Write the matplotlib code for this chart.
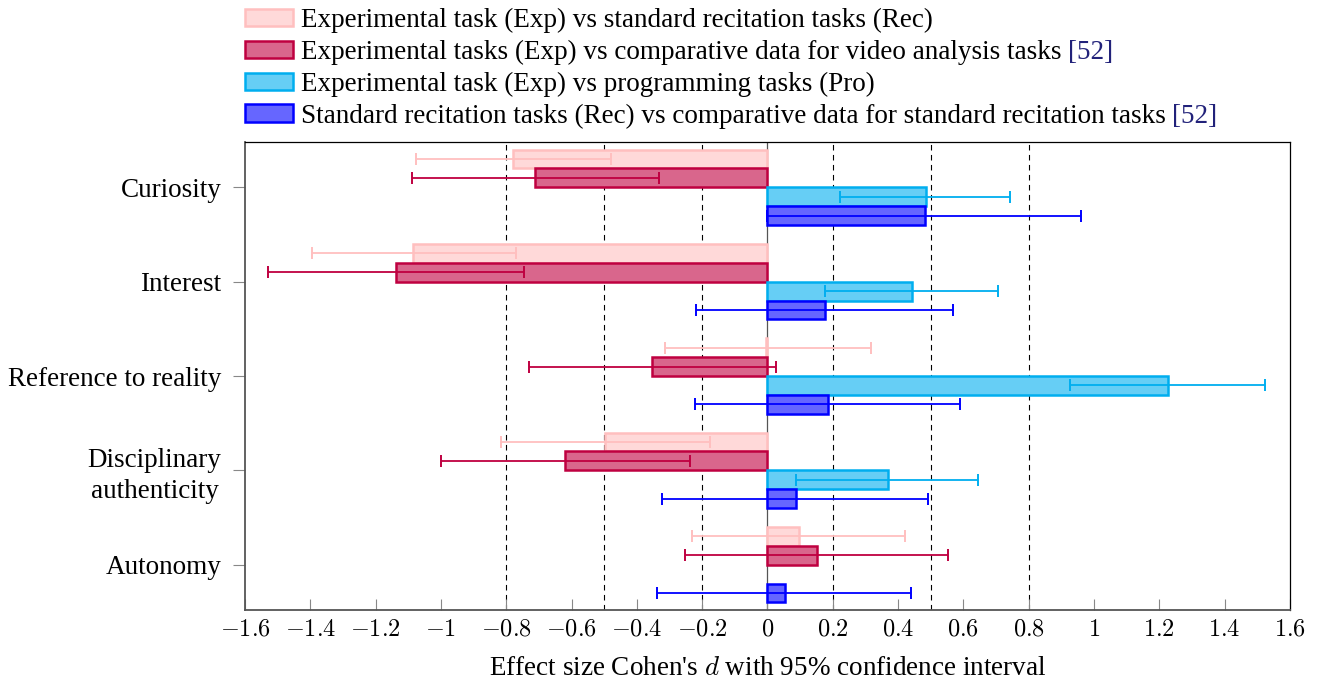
import numpy as np
import matplotlib.pyplot as plt
from matplotlib.ticker import FuncFormatter

plt.rcParams['font.family'] = ['Liberation Serif', 'DejaVu Serif']
plt.rcParams['mathtext.fontset'] = 'cm'

# 数据（从图中读取的效应量和95%置信区间）
categories = ['Curiosity', 'Interest', 'Reference to reality',
              'Disciplinary\nauthenticity', 'Autonomy']

exp_rec = [-0.778, -1.086, -0.005, -0.499, 0.097]
exp_rec_lo = [-1.076, -1.395, -0.313, -0.816, -0.231]
exp_rec_hi = [-0.478, -0.771, 0.316, -0.177, 0.421]

exp_vid = [-0.713, -1.139, -0.353, -0.620, 0.153]
exp_vid_lo = [-1.089, -1.531, -0.731, -1.001, -0.253]
exp_vid_hi = [-0.332, -0.746, 0.027, -0.236, 0.554]

exp_pro = [0.485, 0.443, 1.225, 0.369, np.nan]
exp_pro_lo = [0.221, 0.176, 0.925, 0.087, np.nan]
exp_pro_hi = [0.744, 0.706, 1.523, 0.644, np.nan]

rec_std = [0.482, 0.176, 0.185, 0.086, 0.053]
rec_std_lo = [0.000, -0.218, -0.222, -0.323, -0.338]
rec_std_hi = [0.960, 0.569, 0.591, 0.492, 0.439]

labels = ['Experimental task (Exp) vs standard recitation tasks (Rec)',
          'Experimental tasks (Exp) vs comparative data for video analysis tasks',
          'Experimental task (Exp) vs programming tasks (Pro)',
          'Standard recitation tasks (Rec) vs comparative data for standard recitation tasks']
cites = ['', '[52]', '', '[52]']

series = [(exp_rec, exp_rec_lo, exp_rec_hi),
          (exp_vid, exp_vid_lo, exp_vid_hi),
          (exp_pro, exp_pro_lo, exp_pro_hi),
          (rec_std, rec_std_lo, rec_std_hi)]
edge_colors = ['#FFBFBF', '#BF0040', '#00AEEF', '#0000FF']
fill_colors = ['#FFD9D9', '#D9668C', '#66CEF5', '#6666FF']
offsets = [-0.3, -0.1, 0.1, 0.3]

fig = plt.figure(figsize=(13.23, 6.82), dpi=100)
ax = fig.add_axes([245 / 1323, 1 - 610 / 682, 1045 / 1323, 468 / 682])

y = np.arange(len(categories))

# 参考线
for v in [-0.8, -0.5, -0.2, 0.2, 0.5, 0.8]:
    ax.axvline(v, color='black', linestyle=(0, (5, 4)), linewidth=0.8, zorder=1)
ax.axvline(0, color='#555555', linewidth=0.9, zorder=1)

handles = []
for k, (vals, lo, hi) in enumerate(series):
    vals = np.array(vals, dtype=float)
    lo = np.array(lo, dtype=float)
    hi = np.array(hi, dtype=float)
    pos = y + offsets[k]
    b = ax.barh(pos, vals, height=0.2, color=fill_colors[k],
                edgecolor=edge_colors[k], linewidth=1.8, zorder=2, label=labels[k])
    handles.append(b)
    ax.errorbar(vals, pos, xerr=[vals - lo, hi - vals], fmt='none',
                ecolor=edge_colors[k], elinewidth=1.3, capsize=4, capthick=1.4, zorder=3)


def fmt(v, p):
    v = round(v, 1)
    if abs(v) < 1e-9:
        v = 0.0
    return f'${v:g}$'


ax.set_xlim(-1.6, 1.6)
ax.set_ylim(4.48, -0.48)
ax.set_xticks(np.arange(-1.6, 1.61, 0.2))
ax.xaxis.set_major_formatter(FuncFormatter(fmt))
ax.set_yticks(y)
ax.set_yticklabels(categories, fontsize=19.5, linespacing=1.3)
ax.tick_params(axis='x', direction='in', length=8, width=0.8, color='#888888',
               labelsize=17.5, pad=7)
ax.tick_params(axis='y', direction='out', length=9, width=0.8, color='#888888', pad=8)
for lab in ax.get_yticklabels():
    lab.set_multialignment('center')

ax.set_xlabel("Effect size Cohen's $d$ with 95% confidence interval", fontsize=19.5, labelpad=11)

for s in ['left', 'bottom']:
    ax.spines[s].set_color('#555555')
    ax.spines[s].set_linewidth(1.3)
for s in ['top', 'right']:
    ax.spines[s].set_color('black')
    ax.spines[s].set_linewidth(0.9)

leg = fig.legend(handles=handles, labels=labels, loc='upper left',
                 bbox_to_anchor=(245 / 1323, 1 - 8 / 682), frameon=False, fontsize=19.5,
                 handlelength=1.78, handleheight=0.63, handletextpad=0.3,
                 labelspacing=0.25, borderpad=0, borderaxespad=0)

# 引用编号 [52] 用深蓝色
fig.canvas.draw()
renderer = fig.canvas.get_renderer()
for t, c in zip(leg.get_texts(), cites):
    if c:
        bb = t.get_window_extent(renderer)
        fig.text(bb.x1 / fig.bbox.width + 6 / 1323, bb.y0 / fig.bbox.height, c,
                 color='#22227A', fontsize=19.5, ha='left', va='bottom',
                 transform=fig.transFigure)

fig.savefig('out.png', dpi=100)
